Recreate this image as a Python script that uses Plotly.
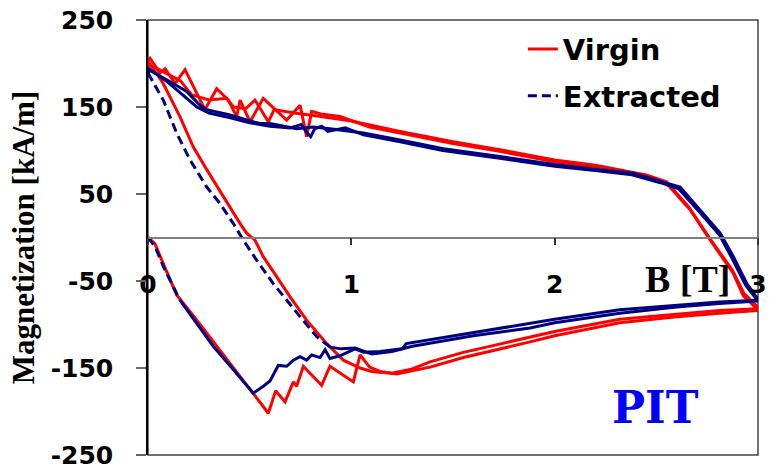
import plotly.graph_objects as go

# ---------------- data (B [T], M [kA/m]) ----------------
# Virgin (red)
virgin_up_B = [0, 0.034, 0.075, 0.141, 0.24, 0.338, 0.452, 0.592, 0.628, 0.674, 0.715, 0.731, 0.764,
               0.854, 0.895, 1.01, 1.043, 1.09, 1.141, 1.223, 1.387, 1.551, 1.879, 2.0, 2.32, 2.6, 2.81, 3.0]
virgin_up_M = [0, -7, -30, -66, -95, -125, -160, -202, -176, -189, -166, -171, -148,
               -170, -148, -166, -135, -149, -154, -157, -149, -138, -120, -113, -98, -91, -87, -84]

virgin_downA_B = [3.0, 2.986, 2.928, 2.878, 2.765, 2.666, 2.551, 2.469, 2.223, 2.0, 1.73, 1.5, 1.24, 1.09,
                  0.944, 0.85, 0.805, 0.78, 0.748, 0.682, 0.567, 0.502, 0.453, 0.436, 0.395, 0.338, 0.28,
                  0.182, 0.133, 0.084, 0.059, 0.01, 0.0]
virgin_downA_M = [-84, -80, -67, -41, -3, 32, 62, 70, 81, 87, 99, 108, 120, 127,
                  139, 142, 145, 116, 152, 135, 160, 133, 158, 139, 158, 171, 147,
                  193, 177, 194, 189, 206, 203]

virgin_ramp2_B = [0.0, 0.075, 0.157, 0.223, 0.289, 0.37, 0.453, 0.485, 0.526, 0.567, 0.666, 0.698, 0.78,
                  0.879, 0.961, 1.043, 1.1, 1.2, 1.3, 1.387, 1.551, 1.879, 2.0, 2.32, 2.6, 2.81, 3.0]
virgin_ramp2_M = [203, 177, 139, 104, 78, 47, 16, 5, -3, -22, -57, -68, -95,
                  -122, -141, -150, -154, -156, -151, -143, -132, -114, -108, -94, -88, -84, -82]

virgin_downB_B = [3.0, 2.99, 2.93, 2.875, 2.76, 2.66, 2.55, 2.45, 2.2, 2.0, 1.73, 1.5, 1.24, 1.0,
                  0.85, 0.72, 0.62, 0.592, 0.526, 0.48, 0.42, 0.387, 0.3, 0.215, 0.16, 0.1, 0.03, 0.0]
virgin_downB_M = [-82, -78, -64, -38, 0, 35, 64, 72, 83, 89, 101, 110, 122, 134,
                  139, 143, 147, 133, 158, 148, 150, 160, 158, 164, 180, 187, 196, 198]

# Extracted (navy)
extr_up_dash_B = [0, 0.034, 0.075, 0.157]
extr_up_dash_M = [0, -10, -33, -72]
extr_up_B = [0.157, 0.24, 0.321, 0.42, 0.518, 0.567, 0.6, 0.641, 0.682, 0.715, 0.748, 0.78, 0.805, 0.846,
             0.871, 0.895, 0.944, 1.018, 1.06, 1.141, 1.25, 1.27, 1.4, 1.6, 1.879, 2.0, 2.32, 2.6, 2.81, 3.0]
extr_up_M = [-72, -99, -125, -152, -179, -171, -165, -147, -148, -141, -137, -141, -135, -138,
             -129, -139, -136, -128, -132, -131, -128, -122, -117, -109, -99, -94, -83, -78, -74, -72]

extr_downA_B = [3.0, 2.994, 2.945, 2.879, 2.814, 2.715, 2.617, 2.53, 2.387, 2.223, 2.0, 1.73, 1.453, 1.24,
                1.059, 0.895, 0.813, 0.731, 0.6, 0.551, 0.485, 0.403, 0.289, 0.256, 0.19, 0.124, 0.01, 0.0]
extr_downA_M = [-72, -69, -53, -22, 5, 32, 58, 64, 74, 78, 84, 93, 102, 112,
                120, 125, 127, 125, 131, 131, 135, 141, 147, 152, 168, 177, 192, 189]

extr_ramp2_B = [0.0, 0.01, 0.075, 0.141, 0.207, 0.289, 0.354, 0.42, 0.469, 0.534, 0.616, 0.748, 0.83, 0.895]
extr_ramp2_M = [189, 185, 158, 120, 89, 58, 39, 16, -3, -26, -53, -91, -114, -126]

extr_branch2_B = [0.895, 0.95, 1.018, 1.1, 1.2, 1.3, 1.4, 1.6, 1.879, 2.0, 2.32, 2.6, 2.81, 3.0]
extr_branch2_M = [-126, -128, -127, -134, -131, -125, -121, -113, -104, -98, -87, -80, -76, -73]

extr_downB_B = [3.0, 2.99, 2.94, 2.875, 2.81, 2.71, 2.61, 2.52, 2.38, 2.2, 2.0, 1.73, 1.45, 1.24, 1.06,
                0.97, 0.92, 0.884, 0.854, 0.82, 0.8, 0.78, 0.754, 0.7, 0.6, 0.5, 0.4, 0.3, 0.24, 0.18,
                0.1, 0.03, 0.0]
extr_downB_M = [-73, -70, -55, -25, 3, 30, 56, 63, 72, 77, 82, 91, 100, 110, 118,
                126, 124, 122, 128, 125, 116, 121, 130, 126, 128, 132, 138, 143, 150, 162,
                178, 190, 195]

x_ticks = [0, 1, 2, 3]
y_ticks = [-250, -150, -50, 50, 150, 250]

RED = "#FF0000"
NAVY = "#000080"
LW = 3

fig = go.Figure()

red_sets = [(virgin_up_B, virgin_up_M), (virgin_downA_B, virgin_downA_M),
            (virgin_ramp2_B, virgin_ramp2_M), (virgin_downB_B, virgin_downB_M)]
for i, (bx, my) in enumerate(red_sets):
    fig.add_trace(go.Scatter(x=bx, y=my, mode="lines", name="Virgin",
                             line=dict(color=RED, width=LW),
                             legendgroup="v", showlegend=(i == 0)))

navy_dash = [(extr_ramp2_B, extr_ramp2_M), (extr_up_dash_B, extr_up_dash_M)]
navy_solid = [(extr_up_B, extr_up_M), (extr_downA_B, extr_downA_M),
              (extr_branch2_B, extr_branch2_M), (extr_downB_B, extr_downB_M)]
for bx, my in navy_solid:
    fig.add_trace(go.Scatter(x=bx, y=my, mode="lines", name="Extracted",
                             line=dict(color=NAVY, width=LW),
                             legendgroup="e", showlegend=False))
for i, (bx, my) in enumerate(navy_dash):
    fig.add_trace(go.Scatter(x=bx, y=my, mode="lines", name="Extracted",
                             line=dict(color=NAVY, width=LW, dash="9px,5px"),
                             legendgroup="e", showlegend=(i == 0)))

tickfont = dict(family="DejaVu Sans", size=25, color="black", weight="bold")

fig.update_layout(
    width=770, height=476,
    margin=dict(l=148, r=12, t=20, b=21, autoexpand=False),
    plot_bgcolor="white", paper_bgcolor="white",
    xaxis=dict(range=[0, 3], anchor="free", position=0.5, automargin=False,
               showline=True, linecolor="#808080", linewidth=1.5,
               ticks="outside", ticklen=7, tickwidth=1.5, tickcolor="#333333",
               tickvals=x_ticks, ticktext=[str(v) for v in x_ticks],
               tickfont=tickfont, ticklabelstandoff=18,
               showgrid=False, zeroline=False),
    yaxis=dict(range=[-250, 250], anchor="x", automargin=False,
               showline=True, linecolor="black", linewidth=1.5,
               ticks="outside", ticklen=10, tickwidth=1.5, tickcolor="#666666",
               tickvals=y_ticks, ticktext=[str(v) for v in y_ticks],
               tickfont=tickfont, ticklabelstandoff=18,
               showgrid=False, zeroline=False,
               title=dict(text="Magnetization [kA/m]", standoff=7,
                          font=dict(family="Liberation Serif", size=31, color="black", weight="bold"))),
    legend=dict(x=0.6145, y=0.9915, xanchor="left", yanchor="top",
                bgcolor="rgba(0,0,0,0)", borderwidth=0, tracegroupgap=6,
                font=dict(family="DejaVu Sans", size=29, color="black", weight="bold")),
    shapes=[dict(type="rect", xref="x domain", yref="y domain", x0=0, x1=1, y0=0, y1=1,
                 line=dict(color="#444444", width=1.5), layer="below")],
    annotations=[
        dict(x=2.656, y=-47.7, xref="x", yref="y", text="B [T]", showarrow=False,
             font=dict(family="Liberation Serif", size=38, color="black", weight="bold")),
        dict(x=2.494, y=-195, xref="x", yref="y", text="PIT", showarrow=False,
             font=dict(family="DejaVu Serif", size=44, color="#0000FF", weight="bold")),
    ],
)

fig.write_html("out.html")
